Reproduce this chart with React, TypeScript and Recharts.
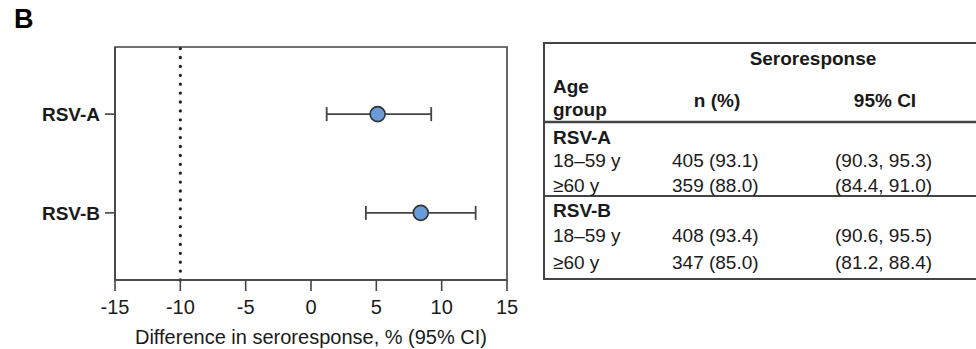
import React from "react";
import { ScatterChart, Scatter, XAxis, YAxis, ErrorBar, ReferenceLine, ReferenceArea } from "recharts";

const groups = ["RSV-A", "RSV-B"];
const diff = [5.1, 8.4];
const ciLow = [1.2, 4.2];
const ciHigh = [9.2, 12.6];
const xTicks = [-15, -10, -5, 0, 5, 10, 15];

const ageGroups = ["18–59 y", "≥60 y"];
const nPct = [
  ["405 (93.1)", "359 (88.0)"],
  ["408 (93.4)", "347 (85.0)"],
];
const ci95 = [
  ["(90.3, 95.3)", "(84.4, 91.0)"],
  ["(90.6, 95.5)", "(81.2, 88.4)"],
];

const FONT = "'Liberation Sans', Arial, Helvetica, sans-serif";
const INK = "#1a1a1a";
const LINE = "#444";

const points = groups.map((g, i) => ({
  y: i + 1,
  x: diff[i],
  err: [diff[i] - ciLow[i], ciHigh[i] - diff[i]],
}));

const Dot = (props: any) => {
  const { cx, cy } = props;
  return <circle cx={cx} cy={cy} r={7.5} fill="#6a9bd6" stroke="#333" strokeWidth={1.6} />;
};

function SeroTable() {
  // text baselines for each group: group title, then the two age rows
  const rowY = [
    [144, 167, 192],
    [217, 242, 269],
  ];
  return (
    <svg width={976} height={349} style={{ position: "absolute", left: 0, top: 0 }} fontFamily={FONT} fontSize={19} fill={INK}>
      <line x1={544} y1={43} x2={976} y2={43} stroke={LINE} strokeWidth={2} />
      <line x1={544} y1={42} x2={544} y2={280} stroke={LINE} strokeWidth={2} />
      <line x1={544} y1={279} x2={976} y2={279} stroke={LINE} strokeWidth={2} />
      <line x1={544} y1={122} x2={976} y2={122} stroke={LINE} strokeWidth={2.5} />
      <line x1={544} y1={196} x2={976} y2={196} stroke={LINE} strokeWidth={1.8} />
      <text x={813} y={65} textAnchor="middle" fontWeight="bold">Seroresponse</text>
      <text x={553} y={93} fontWeight="bold">Age</text>
      <text x={553} y={116} fontWeight="bold">group</text>
      <text x={717} y={107} textAnchor="middle" fontWeight="bold">n (%)</text>
      <text x={885} y={107} textAnchor="middle" fontWeight="bold">95% CI</text>
      {groups.map((g, gi) => (
        <g key={g}>
          <text x={553} y={rowY[gi][0]} fontWeight="bold">{g}</text>
          {ageGroups.map((a, ai) => (
            <g key={a}>
              <text x={553} y={rowY[gi][ai + 1]}>{a}</text>
              <text x={672} y={rowY[gi][ai + 1]}>{nPct[gi][ai]}</text>
              <text x={835} y={rowY[gi][ai + 1]}>{ci95[gi][ai]}</text>
            </g>
          ))}
        </g>
      ))}
    </svg>
  );
}

export default function App() {
  return (
    <div style={{ position: "absolute", left: 0, top: 0, width: 976, height: 349, background: "#fff", fontFamily: FONT }}>
      <div style={{ position: "absolute", left: 14, top: 6, fontSize: 27, fontWeight: "bold", color: "#000", lineHeight: 1 }}>B</div>
      <div style={{ position: "absolute", left: 0, top: 0 }}>
        <ScatterChart width={540} height={349} margin={{ top: 47, right: 33, bottom: 0, left: 0 }}>
          <ReferenceArea x1={-15} x2={15} y1={0.32} y2={2.68} fill="none" stroke={LINE} strokeWidth={1.6} />
          <XAxis
            type="number"
            dataKey="x"
            domain={[-15, 15]}
            ticks={xTicks}
            interval={0}
            height={69}
            tickSize={11}
            tickMargin={9}
            stroke={LINE}
            strokeWidth={1.6}
            tick={{ fill: INK, fontSize: 20, fontFamily: FONT }}
            label={{ value: "Difference in seroresponse, % (95% CI)", position: "insideBottom", offset: 5, fill: INK, fontSize: 20, fontFamily: FONT }}
          />
          <YAxis
            type="number"
            dataKey="y"
            domain={[0.32, 2.68]}
            reversed
            ticks={[1, 2]}
            interval={0}
            width={115}
            tickSize={10}
            tickMargin={5}
            stroke={LINE}
            strokeWidth={1.6}
            tickFormatter={(v: number) => groups[v - 1] ?? ""}
            tick={{ fill: INK, fontSize: 19, fontWeight: "bold", fontFamily: FONT }}
          />
          <ReferenceLine x={-10} stroke="#222" strokeWidth={3.3} strokeDasharray="0 8.9" strokeLinecap="round" />
          <Scatter data={points} isAnimationActive={false} shape={() => <g />}>
            <ErrorBar dataKey="err" direction="x" width={7} stroke={LINE} strokeWidth={1.8} isAnimationActive={false} />
          </Scatter>
          <Scatter data={points} isAnimationActive={false} shape={Dot} />
        </ScatterChart>
      </div>
      <SeroTable />
    </div>
  );
}
